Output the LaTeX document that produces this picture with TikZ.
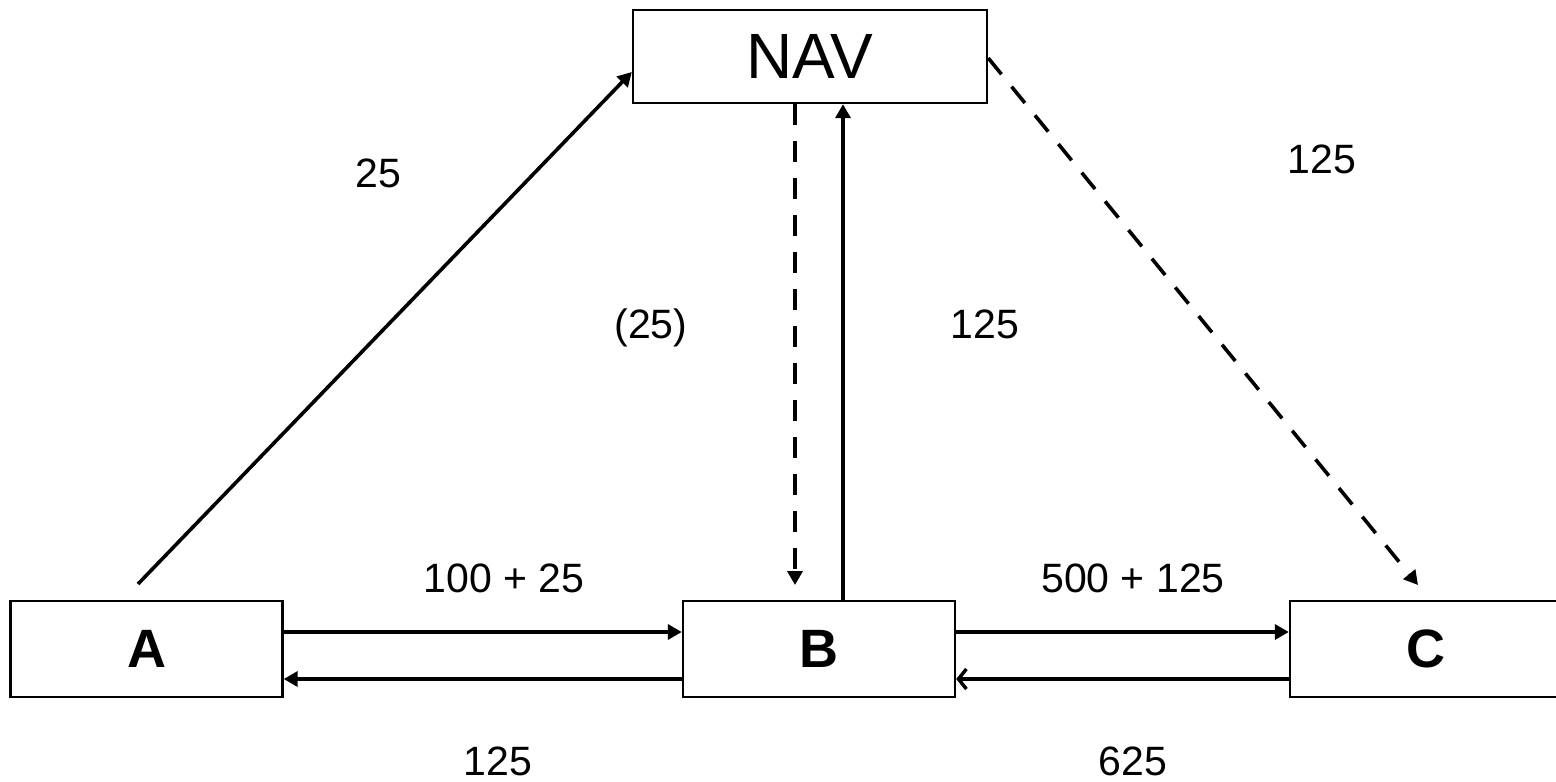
\documentclass[tikz,border=0pt]{standalone}
\usepackage{fontspec}
\setmainfont{Liberation Sans}
\usetikzlibrary{arrows.meta}
\begin{document}
\begin{tikzpicture}[x=1pt,y=-1pt,
  box/.style={draw,line width=2.4pt,rectangle,minimum width=272pt,minimum height=96pt,inner sep=0pt},
  conn/.style={line width=3.6pt,-{Triangle[length=14pt,width=15pt]}},
  dconn/.style={conn,dash pattern=on 21pt off 16pt},
  openconn/.style={line width=3.6pt,-{Straight Barb[length=8pt,width=20pt,line width=3.4pt]}},
  lbl/.style={font=\fontsize{41}{46}\selectfont,inner sep=0pt,anchor=base}
]
\useasboundingbox (0,0) rectangle (1556,782);
\node[box,minimum width=354pt,minimum height=93pt,font=\fontsize{64}{70}\selectfont] (NAV) at (810,56.5) {NAV};
\node[box,font=\fontsize{54}{60}\selectfont\bfseries] (A) at (146.5,649) {A};
\node[box,font=\fontsize{54}{60}\selectfont\bfseries] (B) at (819,649) {B};
\node[box,font=\fontsize{54}{60}\selectfont\bfseries] (C) at (1426,649) {C};

\coordinate (a0) at (138,584);
\coordinate (b0) at (795,585);
\coordinate (c0) at (1418,585);

\draw[conn] (a0) -- (NAV.west |- 0,72);
\draw[conn] (B.north -| 843,0) -- (NAV.south -| 843,0);
\draw[dconn] (NAV.south -| 795,0) -- (b0);
\draw[dconn] (NAV.east |- 0,58) -- (c0);

\draw[conn] (A.east |- 0,632) -- (B.west |- 0,632);
\draw[conn] (B.west |- 0,679) -- (A.east |- 0,679);
\draw[conn] (B.east |- 0,632) -- (C.west |- 0,632);
\draw[openconn] (C.west |- 0,679) -- (B.east |- 0,679);

\node[lbl] (l1) at (378.5,187) {25};
\node[lbl] (l2) at (651,338) {(25)};
\node[lbl] (l3) at (985,338) {125};
\node[lbl] (l4) at (1322,173) {125};
\node[lbl] (l5) at (504,592) {100 + 25};
\node[lbl] (l6) at (1133,592) {500 + 125};
\node[lbl] (l7) at (498,775) {125};
\node[lbl] (l8) at (1133,775) {625};
\end{tikzpicture}
\end{document}
